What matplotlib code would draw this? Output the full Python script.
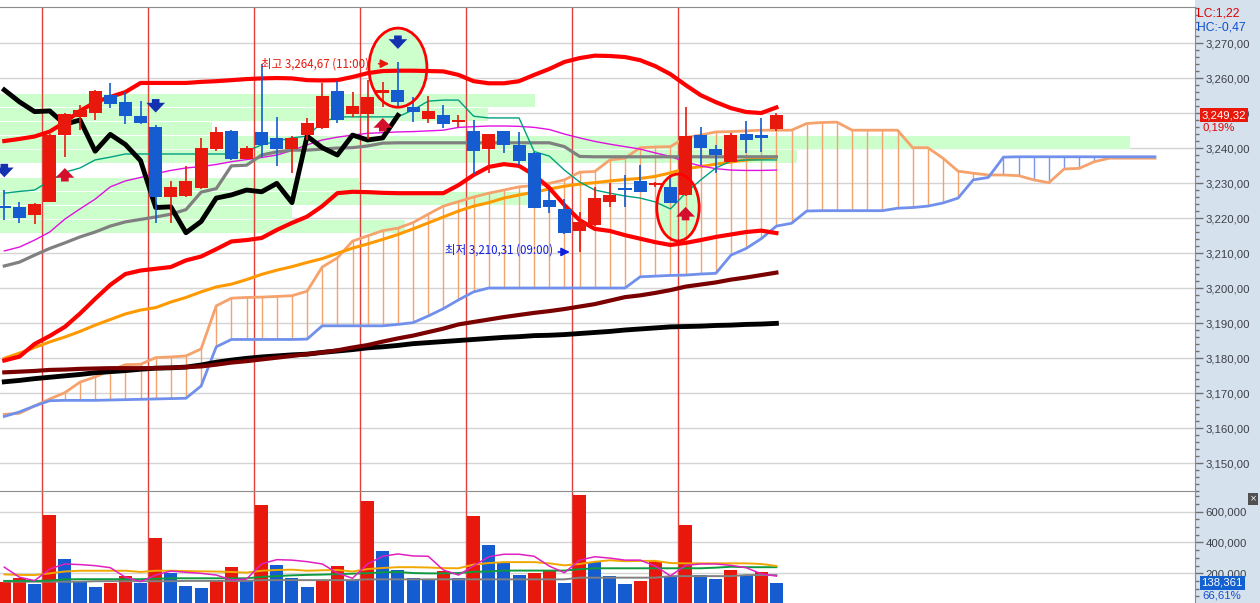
import numpy as np
import matplotlib
matplotlib.use('Agg')
from matplotlib import pyplot as plt
from matplotlib import font_manager
from matplotlib.patches import Ellipse, Rectangle
from matplotlib.ticker import FixedLocator, MultipleLocator, FuncFormatter
from matplotlib.transforms import offset_copy

plt.rcParams['axes.unicode_minus'] = False

# ---- 60 minute candles (52 bars) ----
opens = [3223.5, 3223.2, 3220.9, 3224.7, 3243.7, 3249.0, 3250.1, 3255.1, 3253.2, 3249.1,
         3246.1, 3226.1, 3226.4, 3228.5, 3239.7, 3244.9, 3237.0, 3244.7, 3242.8, 3239.6,
         3243.7, 3245.8, 3256.3, 3249.7, 3249.6, 3255.8, 3256.6, 3251.6, 3248.2, 3249.4,
         3247.5, 3244.9, 3239.7, 3244.9, 3241.0, 3238.7, 3225.1, 3222.6, 3216.4, 3218.0,
         3224.7, 3228.6, 3230.6, 3229.3, 3228.8, 3226.6, 3243.7, 3239.7, 3236.1, 3244.0,
         3243.7, 3245.3]
highs = [3228.0, 3224.7, 3224.3, 3244.0, 3250.0, 3252.3, 3256.5, 3258.5, 3256.1, 3253.5,
         3246.5, 3230.6, 3234.9, 3243.0, 3246.1, 3245.2, 3240.6, 3264.0, 3248.8, 3243.3,
         3248.5, 3258.7, 3259.1, 3256.1, 3259.4, 3259.0, 3264.67, 3254.5, 3254.9, 3252.3,
         3249.4, 3248.0, 3244.0, 3245.0, 3244.5, 3239.0, 3228.0, 3225.3, 3221.8, 3229.0,
         3230.1, 3232.3, 3235.1, 3230.2, 3232.3, 3251.6, 3245.9, 3240.9, 3244.4, 3247.7,
         3248.5, 3250.1]
lows = [3219.4, 3218.5, 3218.3, 3224.5, 3237.5, 3245.1, 3248.0, 3251.5, 3247.0, 3247.0,
        3218.5, 3218.5, 3226.0, 3228.3, 3239.2, 3236.5, 3236.8, 3237.5, 3234.9, 3233.0,
        3242.3, 3245.5, 3247.2, 3249.0, 3242.5, 3251.8, 3251.6, 3247.5, 3247.2, 3245.6,
        3245.9, 3232.6, 3233.0, 3238.7, 3235.1, 3222.8, 3221.5, 3215.5, 3210.31, 3217.8,
        3223.2, 3223.2, 3227.3, 3229.0, 3224.2, 3226.4, 3235.1, 3233.0, 3236.0, 3238.5,
        3239.0, 3245.0]
closes = [3222.9, 3220.0, 3224.0, 3243.7, 3249.7, 3250.9, 3256.3, 3252.5, 3249.2, 3247.2,
          3226.1, 3229.0, 3230.6, 3240.1, 3244.7, 3236.8, 3239.9, 3241.0, 3239.6, 3243.0,
          3247.1, 3254.9, 3248.0, 3252.0, 3254.5, 3256.6, 3253.2, 3250.4, 3250.6, 3246.8,
          3248.0, 3239.1, 3243.9, 3241.0, 3236.4, 3223.0, 3223.2, 3215.8, 3219.0, 3225.7,
          3226.6, 3228.0, 3227.5, 3229.9, 3224.4, 3243.4, 3240.1, 3238.0, 3243.7, 3242.3,
          3242.9, 3249.32]
volumes = [145000, 171000, 130000, 578000, 292000, 145000, 110000, 136000, 182000, 136000,
           429000, 201000, 117000, 104000, 156000, 240000, 156000, 643000, 253000, 169000,
           110000, 156000, 247000, 156000, 669000, 344000, 221000, 169000, 160000, 214000,
           169000, 571000, 383000, 266000, 188000, 201000, 221000, 136000, 708000, 275000,
           182000, 130000, 149000, 281000, 182000, 513000, 188000, 162000, 221000, 188000,
           207716, 138361]
hours = ['09:00', '10:00', '11:00', '12:00', '13:00', '14:00', '15:00']
first_session_bar = 3
day_change_pct = 0.19

# ---- price overlays ----
bb_upper = [3242.0, 3242.6, 3243.3, 3244.7, 3247.4, 3250.6, 3253.1, 3254.6, 3256.0, 3258.6,
            3258.6, 3258.6, 3258.6, 3258.9, 3259.1, 3259.4, 3259.7, 3259.9, 3260.0, 3259.9,
            3259.4, 3259.3, 3259.4, 3260.3, 3261.4, 3262.0, 3262.1, 3262.1, 3262.0, 3261.9,
            3260.9, 3259.1, 3258.5, 3258.5, 3259.1, 3260.9, 3262.6, 3264.6, 3265.7, 3266.4,
            3266.3, 3266.0, 3265.1, 3263.4, 3261.1, 3258.0, 3255.1, 3253.1, 3251.4, 3250.3,
            3250.0, 3251.6]
bb_mid = [3210.6, 3211.7, 3213.7, 3216.0, 3219.7, 3222.6, 3225.4, 3228.9, 3230.6, 3231.6,
          3232.7, 3233.6, 3234.3, 3234.7, 3235.3, 3236.1, 3236.7, 3237.3, 3238.0, 3239.3,
          3240.9, 3242.3, 3243.1, 3243.7, 3244.2, 3244.4, 3244.6, 3244.7, 3244.9, 3245.1,
          3245.9, 3246.1, 3246.3, 3246.3, 3246.2, 3245.9, 3245.3, 3244.0, 3242.9, 3241.9,
          3241.1, 3240.4, 3239.7, 3238.6, 3237.6, 3236.0, 3234.9, 3234.1, 3233.7, 3233.6,
          3233.6, 3233.7]
bb_lower = [3179.3, 3180.4, 3184.0, 3186.3, 3188.9, 3192.7, 3196.9, 3200.9, 3204.0, 3205.0,
            3205.5, 3206.0, 3207.9, 3209.0, 3211.1, 3213.3, 3213.7, 3214.3, 3216.6, 3218.6,
            3220.4, 3223.4, 3227.1, 3227.5, 3227.4, 3227.2, 3227.1, 3227.1, 3227.1, 3227.1,
            3229.4, 3232.3, 3234.6, 3235.4, 3234.9, 3232.3, 3228.6, 3223.7, 3219.4, 3216.9,
            3216.3, 3215.1, 3214.1, 3213.1, 3212.3, 3212.9, 3213.7, 3214.6, 3215.3, 3216.0,
            3216.4, 3215.7]
ma_orange = [3179.9, 3181.4, 3183.0, 3184.6, 3186.0, 3187.6, 3189.4, 3191.0, 3192.6, 3193.7,
             3194.4, 3196.0, 3197.3, 3198.9, 3200.3, 3201.1, 3202.4, 3203.9, 3205.1, 3206.1,
             3207.3, 3208.4, 3209.9, 3211.4, 3212.6, 3213.9, 3215.3, 3216.9, 3218.6, 3220.3,
             3222.0, 3223.4, 3224.4, 3225.7, 3226.6, 3227.4, 3228.3, 3229.1, 3229.7, 3230.1,
             3230.6, 3231.0, 3231.3, 3231.9, 3232.9, 3234.1, 3234.7, 3235.4, 3236.0, 3236.6,
             3237.0, 3237.4]
ma_darkred = [3175.9, 3176.1, 3176.3, 3176.6, 3176.7, 3176.9, 3177.0, 3177.1, 3177.1, 3177.1,
              3177.1, 3177.2, 3177.4, 3177.6, 3178.1, 3178.7, 3179.1, 3179.6, 3180.1, 3180.6,
              3181.1, 3181.6, 3182.2, 3183.0, 3183.7, 3184.7, 3185.6, 3186.4, 3187.4, 3188.4,
              3189.6, 3190.3, 3191.0, 3191.7, 3192.3, 3192.9, 3193.4, 3194.0, 3194.7, 3195.4,
              3196.4, 3197.4, 3197.9, 3198.6, 3199.4, 3200.4, 3201.0, 3201.6, 3202.4, 3203.0,
              3203.7, 3204.4]
ma_black = [3173.2, 3173.6, 3174.1, 3174.5, 3174.9, 3175.3, 3175.8, 3176.1, 3176.4, 3176.8,
            3177.1, 3177.2, 3177.4, 3178.0, 3178.8, 3179.4, 3179.9, 3180.3, 3180.6, 3180.9,
            3181.1, 3181.6, 3182.0, 3182.4, 3182.9, 3183.2, 3183.6, 3184.1, 3184.4, 3184.7,
            3185.0, 3185.3, 3185.6, 3185.9, 3186.1, 3186.4, 3186.5, 3186.7, 3187.0, 3187.3,
            3187.6, 3188.0, 3188.3, 3188.6, 3188.9, 3189.0, 3189.1, 3189.3, 3189.4, 3189.6,
            3189.7, 3189.9]

# ---- ichimoku ----
tenkan = [3227.1, 3227.6, 3228.0, 3230.6, 3233.1, 3234.3, 3236.6, 3237.4, 3238.3, 3238.3,
          3238.3, 3238.3, 3238.3, 3238.3, 3238.3, 3238.3, 3239.1, 3240.9, 3242.0, 3242.9,
          3243.4, 3247.4, 3248.9, 3248.9, 3248.9, 3248.9, 3248.9, 3250.9, 3253.4, 3253.7,
          3253.7, 3249.1, 3248.6, 3248.6, 3248.6, 3239.0, 3237.7, 3233.7, 3230.3, 3228.0,
          3227.1, 3226.3, 3225.7, 3224.6, 3222.6, 3227.1, 3230.9, 3234.3, 3236.3, 3236.6,
          3236.6, 3236.6]
kijun = [3206.3, 3207.4, 3209.4, 3211.3, 3212.9, 3214.6, 3216.0, 3217.7, 3218.9, 3219.6,
         3220.3, 3221.1, 3222.4, 3227.4, 3228.4, 3234.9, 3235.1, 3238.0, 3238.9, 3239.4,
         3239.4, 3239.7, 3240.0, 3240.1, 3240.6, 3241.4, 3241.5, 3241.5, 3241.5, 3241.5,
         3241.5, 3241.5, 3241.5, 3241.5, 3241.5, 3241.5, 3241.5, 3240.4, 3237.6, 3237.5,
         3237.5, 3237.5, 3237.5, 3237.5, 3237.5, 3237.5, 3237.5, 3237.5, 3237.5, 3237.5,
         3237.5, 3237.5]
senkou_a = [3163.9, 3164.2, 3166.3, 3168.3, 3170.1, 3173.1, 3174.6, 3176.4, 3178.1, 3178.2,
            3180.1, 3180.3, 3180.6, 3182.6, 3194.9, 3197.1, 3197.3, 3197.4, 3197.6, 3197.8,
            3199.1, 3206.0, 3208.6, 3213.4, 3214.9, 3216.4, 3217.1, 3218.7, 3221.1, 3223.4,
            3224.7, 3226.0, 3227.1, 3228.0, 3228.9, 3229.3, 3229.9, 3230.9, 3233.1, 3233.3,
            3236.6, 3237.1, 3240.1, 3240.3, 3240.4, 3243.0, 3243.7, 3244.6, 3244.7, 3244.9,
            3245.1, 3245.1, 3245.1, 3247.0, 3247.3, 3247.4, 3245.1, 3245.1, 3245.1, 3245.1,
            3240.1, 3240.1, 3237.1, 3233.4, 3232.8, 3232.3, 3232.3, 3232.1, 3230.9, 3230.1,
            3234.0, 3234.2, 3236.1, 3237.1, 3237.1, 3237.1, 3237.1]
senkou_b = [3163.3, 3164.6, 3166.3, 3167.8, 3167.9, 3167.9, 3167.9, 3168.0, 3168.1, 3168.2,
            3168.3, 3168.4, 3168.5, 3172.0, 3183.2, 3185.3, 3185.3, 3185.3, 3185.3, 3185.3,
            3185.4, 3189.2, 3189.2, 3189.2, 3189.2, 3189.2, 3189.6, 3190.1, 3192.0, 3194.1,
            3196.6, 3198.9, 3200.0, 3200.0, 3200.0, 3200.0, 3200.0, 3200.0, 3200.0, 3200.0,
            3200.0, 3200.0, 3203.2, 3203.4, 3203.6, 3203.7, 3204.0, 3204.2, 3209.4, 3211.3,
            3214.1, 3217.7, 3218.5, 3222.0, 3222.1, 3222.1, 3222.1, 3222.1, 3222.1, 3222.8,
            3223.0, 3223.4, 3224.3, 3225.7, 3230.9, 3231.6, 3237.4, 3237.5, 3237.5, 3237.5,
            3237.5, 3237.5, 3237.5, 3237.5, 3237.5, 3237.5, 3237.5]
chikou_shift = 25

# ---- volume averages (thousands) ----
vol_ma5 = [239, 174, 152, 227, 260, 256, 249, 236, 174, 145, 188, 214, 206, 199, 188, 156, 162,
           261, 288, 285, 275, 260, 201, 167, 261, 310, 325, 312, 310, 221, 188, 248, 307, 323,
           323, 310, 246, 203, 285, 307, 298, 285, 285, 246, 183, 251, 260, 260, 251, 236, 196, 181]
vol_ma10 = [192, 189, 188, 199, 211, 216, 216, 216, 216, 208, 216, 216, 214, 212, 211, 208, 204,
            216, 221, 223, 216, 219, 221, 211, 227, 234, 239, 239, 237, 233, 232, 256, 266, 272,
            272, 272, 264, 251, 260, 274, 284, 278, 280, 280, 266, 264, 264, 264, 264, 264, 260, 247]
vol_ma20 = [150, 150, 150, 152, 160, 161, 161, 161, 161, 161, 164, 167, 167, 167, 167, 167, 167,
            176, 181, 186, 189, 191, 194, 197, 200, 206, 208, 201, 199, 199, 201, 209, 211, 217,
            217, 217, 217, 217, 226, 232, 232, 232, 232, 232, 232, 232, 232, 236, 242, 239, 239, 239]
vol_ma60 = [145, 145, 145, 145, 145, 145, 148, 148, 148, 148, 148, 148, 150, 150, 150, 150, 150,
            155, 155, 155, 155, 155, 155, 155, 160, 160, 160, 160, 160, 160, 160, 160, 160, 160,
            160, 160, 160, 160, 171, 171, 171, 171, 171, 171, 181, 181, 181, 181, 181, 188, 188, 188]

# ---- price-by-volume bands (bin low edge, share of chart width) ----
profile_bins = [3215.7, 3219.7, 3223.7, 3227.7, 3231.7, 3235.7, 3239.7, 3243.7, 3247.7, 3251.7]
profile_share = [0.339, 0.244, 0.444, 0.30, 0.0, 0.667, 0.946, 0.177, 0.408, 0.448]

buy_bars = [4, 25, 45]
sell_bars = [0, 10, 26]

RED = '#e8190c'
BLUE = '#145cd0'

names = {f.name for f in font_manager.fontManager.ttflist}
if 'Liberation Sans Narrow' in names:
    axis_font, axis_size = 'Liberation Sans Narrow', 10
else:
    axis_font, axis_size = 'Liberation Sans', 8.2
ko_font = ['Noto Sans CJK KR', 'DejaVu Sans']


def ko_num(v, dec=2):
    return f"{v:,.{dec}f}".replace('.', ',')


fig = plt.figure(figsize=(12.6, 6.03), dpi=100)
fig.patches.append(Rectangle((1195 / 1260, 0), 65 / 1260, 1, transform=fig.transFigure,
                             fc='#d6e1ee', ec='none', zorder=-5))
ax = fig.add_axes([0, 112 / 603, 1195 / 1260, 484 / 603])
axv = fig.add_axes([0, 0, 1195 / 1260, 112 / 603], sharex=ax)

x = np.arange(len(closes))
xs = np.arange(len(senkou_a))
o = np.array(opens); c = np.array(closes)
h = np.array(highs); l = np.array(lows)
xmin, xmax = -0.284, 78.65

# day separators
day_starts = [i for i in x if (i - first_session_bar) % 7 == 0]
for a in (ax, axv):
    for d in day_starts:
        a.axvline(d - 0.5, color='#e2403a', lw=1, zorder=1.5)

# price-by-volume bands
ax.barh(profile_bins, np.array(profile_share) * (xmax - xmin), left=xmin, height=3.71,
        align='edge', color='#ccffcc', zorder=1)

# ichimoku cloud hatch
sa = np.array(senkou_a); sb = np.array(senkou_b)
hatch_col = np.where(sa >= sb, '#f4a36e', '#7b96ee')
ax.vlines(xs, sa, sb, colors=hatch_col, lw=1, zorder=2)
ax.plot(xs, sa, color='#f5a26c', lw=2, zorder=2.2)
ax.plot(xs, sb, color='#7090ec', lw=2, zorder=2.2)

# moving averages
ax.plot(x, ma_black, color='black', lw=3.5, zorder=2.5)
ax.plot(x, ma_darkred, color='#7a0000', lw=3, zorder=2.6)
ax.plot(x, ma_orange, color='#ff9900', lw=2.2, zorder=2.7)
ax.plot(x, bb_upper, color='#ff0000', lw=3, zorder=2.8)
ax.plot(x, bb_lower, color='#ff0000', lw=3, zorder=2.8)
ax.plot(x, bb_mid, color='#e010e0', lw=1, zorder=2.8)
ax.plot(x, kijun, color='#808080', lw=2.3, zorder=2.9)
ax.plot(x, tenkan, color='#00a080', lw=1, zorder=2.9)
ax.plot(x[:len(x) - chikou_shift], closes[chikou_shift:], color='black', lw=3.5, zorder=3)

# signal circles
imax = int(np.argmax(h)); imin = int(np.argmin(l))
circles = [((imax, h[imax] - 1.7), 3.83, 22.6), ((44.5, l[45] - 3.4), 2.8, 19.1)]
for (cx, cy), w, hh in circles:
    ax.add_patch(Ellipse((cx, cy), w, hh, fc='#ccffcc', ec='none', zorder=1.2))
    ax.add_patch(Ellipse((cx, cy), w, hh, fc='none', ec='#ff0000', lw=2, zorder=5))

# candles
col = np.where(c >= o, RED, BLUE)
ax.vlines(x, l, h, colors=col, lw=1.2, zorder=4)
ax.bar(x, np.maximum(np.abs(c - o), 0.6), bottom=np.minimum(o, c), width=0.86,
       color=col, zorder=4.1)

# buy / sell arrows
arrow_style = 'simple,head_length=0.7,head_width=1.35,tail_width=0.55'
for i in sell_bars:
    tip = offset_copy(ax.transData, fig=fig, x=0, y=10, units='dots')
    ax.annotate('', xy=(i, h[i]), xycoords=tip, xytext=(0, 19), textcoords='offset pixels',
                arrowprops=dict(arrowstyle=arrow_style, mutation_scale=10,
                                fc='#1432b0', ec='none'), zorder=6)
for i in buy_bars:
    tip = offset_copy(ax.transData, fig=fig, x=0, y=-8.5, units='dots')
    ax.annotate('', xy=(i, l[i]), xycoords=tip, xytext=(0, -19), textcoords='offset pixels',
                arrowprops=dict(arrowstyle=arrow_style, mutation_scale=10,
                                fc='#d40f2d', ec='none'), zorder=6)


# high / low labels
def bar_time(i):
    return hours[(i - first_session_bar) % 7]


t = offset_copy(ax.transData, fig=fig, x=-6, y=-2, units='dots')
ax.annotate('', xy=(imax, h[imax]), xycoords=t, xytext=(-16, 0), textcoords='offset pixels',
            arrowprops=dict(arrowstyle='-|>,head_length=0.5,head_width=0.25', color='#e8190c', lw=1.2),
            zorder=6)
ax.text(imax, h[imax], f'최고 {ko_num(h[imax])} ({bar_time(imax)})', color='#e8190c',
        transform=offset_copy(ax.transData, fig=fig, x=-29, y=-2, units='dots'),
        ha='right', va='center', fontsize=8.3, family=ko_font, zorder=6)
t = offset_copy(ax.transData, fig=fig, x=-7, y=0, units='dots')
ax.annotate('', xy=(imin, l[imin]), xycoords=t, xytext=(-17, 0), textcoords='offset pixels',
            arrowprops=dict(arrowstyle='-|>,head_length=0.5,head_width=0.25', color='#1020e0', lw=1.2),
            zorder=6)
ax.text(imin, l[imin], f'최저 {ko_num(l[imin])} ({bar_time(imin)})', color='#1020e0',
        transform=offset_copy(ax.transData, fig=fig, x=-27, y=2, units='dots'),
        ha='right', va='center', fontsize=8.3, family=ko_font, zorder=6)

# volume pane
vol = np.array(volumes)
vprev = np.concatenate([[vol[0] - 1], vol[:-1]])
vcol = np.where(vol > vprev, RED, BLUE)
axv.bar(x, vol, width=0.86, color=vcol, zorder=2)
axv.plot(x, np.array(vol_ma60) * 1000, color='#808080', lw=1.4, zorder=3)
axv.plot(x, np.array(vol_ma20) * 1000, color='#109a40', lw=1.4, zorder=3)
axv.plot(x, np.array(vol_ma10) * 1000, color='#f0a800', lw=1.4, zorder=3)
axv.plot(x, np.array(vol_ma5) * 1000, color='#e020c0', lw=1.1, zorder=3)

# axes cosmetics
ax.set_xlim(xmin, xmax)
ax.set_ylim(3142.0, 3280.3)
axv.set_ylim(6494, 733800)
ax.yaxis.set_major_locator(FixedLocator(np.arange(3150, 3271, 10)))
ax.yaxis.set_minor_locator(MultipleLocator(2))
ax.yaxis.set_major_formatter(FuncFormatter(lambda v, p: ko_num(v)))
axv.yaxis.set_major_locator(FixedLocator([200000, 400000, 600000]))
axv.yaxis.set_minor_locator(MultipleLocator(50000))
axv.yaxis.set_major_formatter(FuncFormatter(lambda v, p: ko_num(v, 0)))
for a in (ax, axv):
    a.set_axisbelow(True)
    a.spines['left'].set_visible(False)
    a.spines['bottom'].set_visible(False)
    a.spines['right'].set_color('#8c8c8c')
    a.spines['top'].set_color('#8c8c8c')
    a.yaxis.tick_right()
    a.tick_params(axis='x', which='both', bottom=False, labelbottom=False)
    a.tick_params(axis='y', which='major', length=6, width=1, color='#707070', pad=1.5,
                  labelsize=axis_size, labelcolor='#3c4048')
    a.tick_params(axis='y', which='minor', length=3, width=1, color='#707070')
    a.grid(axis='y', which='major', color='#d4d4d4', lw=1)
    for lab in a.get_yticklabels():
        lab.set_family(axis_font)

# right-hand labels
lc = (c[-1] - l.min()) / l.min() * 100
hc = (c[-1] - h.max()) / h.max() * 100
ytr = ax.get_yaxis_transform()
fig.text(1196.5 / 1260, 1 - 14 / 603, f'LC:{ko_num(lc)}', color='#e00000', va='center',
         family=axis_font, fontsize=axis_size + 0.5)
fig.text(1196.5 / 1260, 1 - 27 / 603, f'HC:{ko_num(hc)}', color='#1050d0', va='center',
         family=axis_font, fontsize=axis_size + 0.5)
ax.text(1.0055, c[-1], ko_num(c[-1]), transform=ytr, color='white', va='center', ha='left',
        family=axis_font, fontsize=axis_size, zorder=10, clip_on=False,
        bbox=dict(boxstyle='square,pad=0.18', fc=RED, ec='none'))
ax.text(1.006, c[-1], f'{ko_num(day_change_pct)}%', color='#e00000', va='center', ha='left',
        transform=offset_copy(ytr, fig=fig, x=0, y=-12, units='dots'),
        family=axis_font, fontsize=axis_size, zorder=10, clip_on=False)
ytv = axv.get_yaxis_transform()
axv.text(1.0055, vol[-1], ko_num(vol[-1], 0), transform=ytv, color='white', va='center',
         ha='left', family=axis_font, fontsize=axis_size, zorder=10, clip_on=False,
         bbox=dict(boxstyle='square,pad=0.18', fc='#1360d0', ec='none'))
axv.text(1.006, vol[-1], f'{ko_num(vol[-1] / vol[-2] * 100)}%', color='#1050d0', va='center',
         ha='left', transform=offset_copy(ytv, fig=fig, x=0, y=-13, units='dots'),
         family=axis_font, fontsize=axis_size, zorder=10, clip_on=False)
fig.text(1253 / 1260, 1 - 499 / 603, '×', color='white', ha='center', va='center', fontsize=6,
         bbox=dict(boxstyle='square,pad=0.15', fc='#505050', ec='none'))

fig.savefig('out.png', dpi=100)
